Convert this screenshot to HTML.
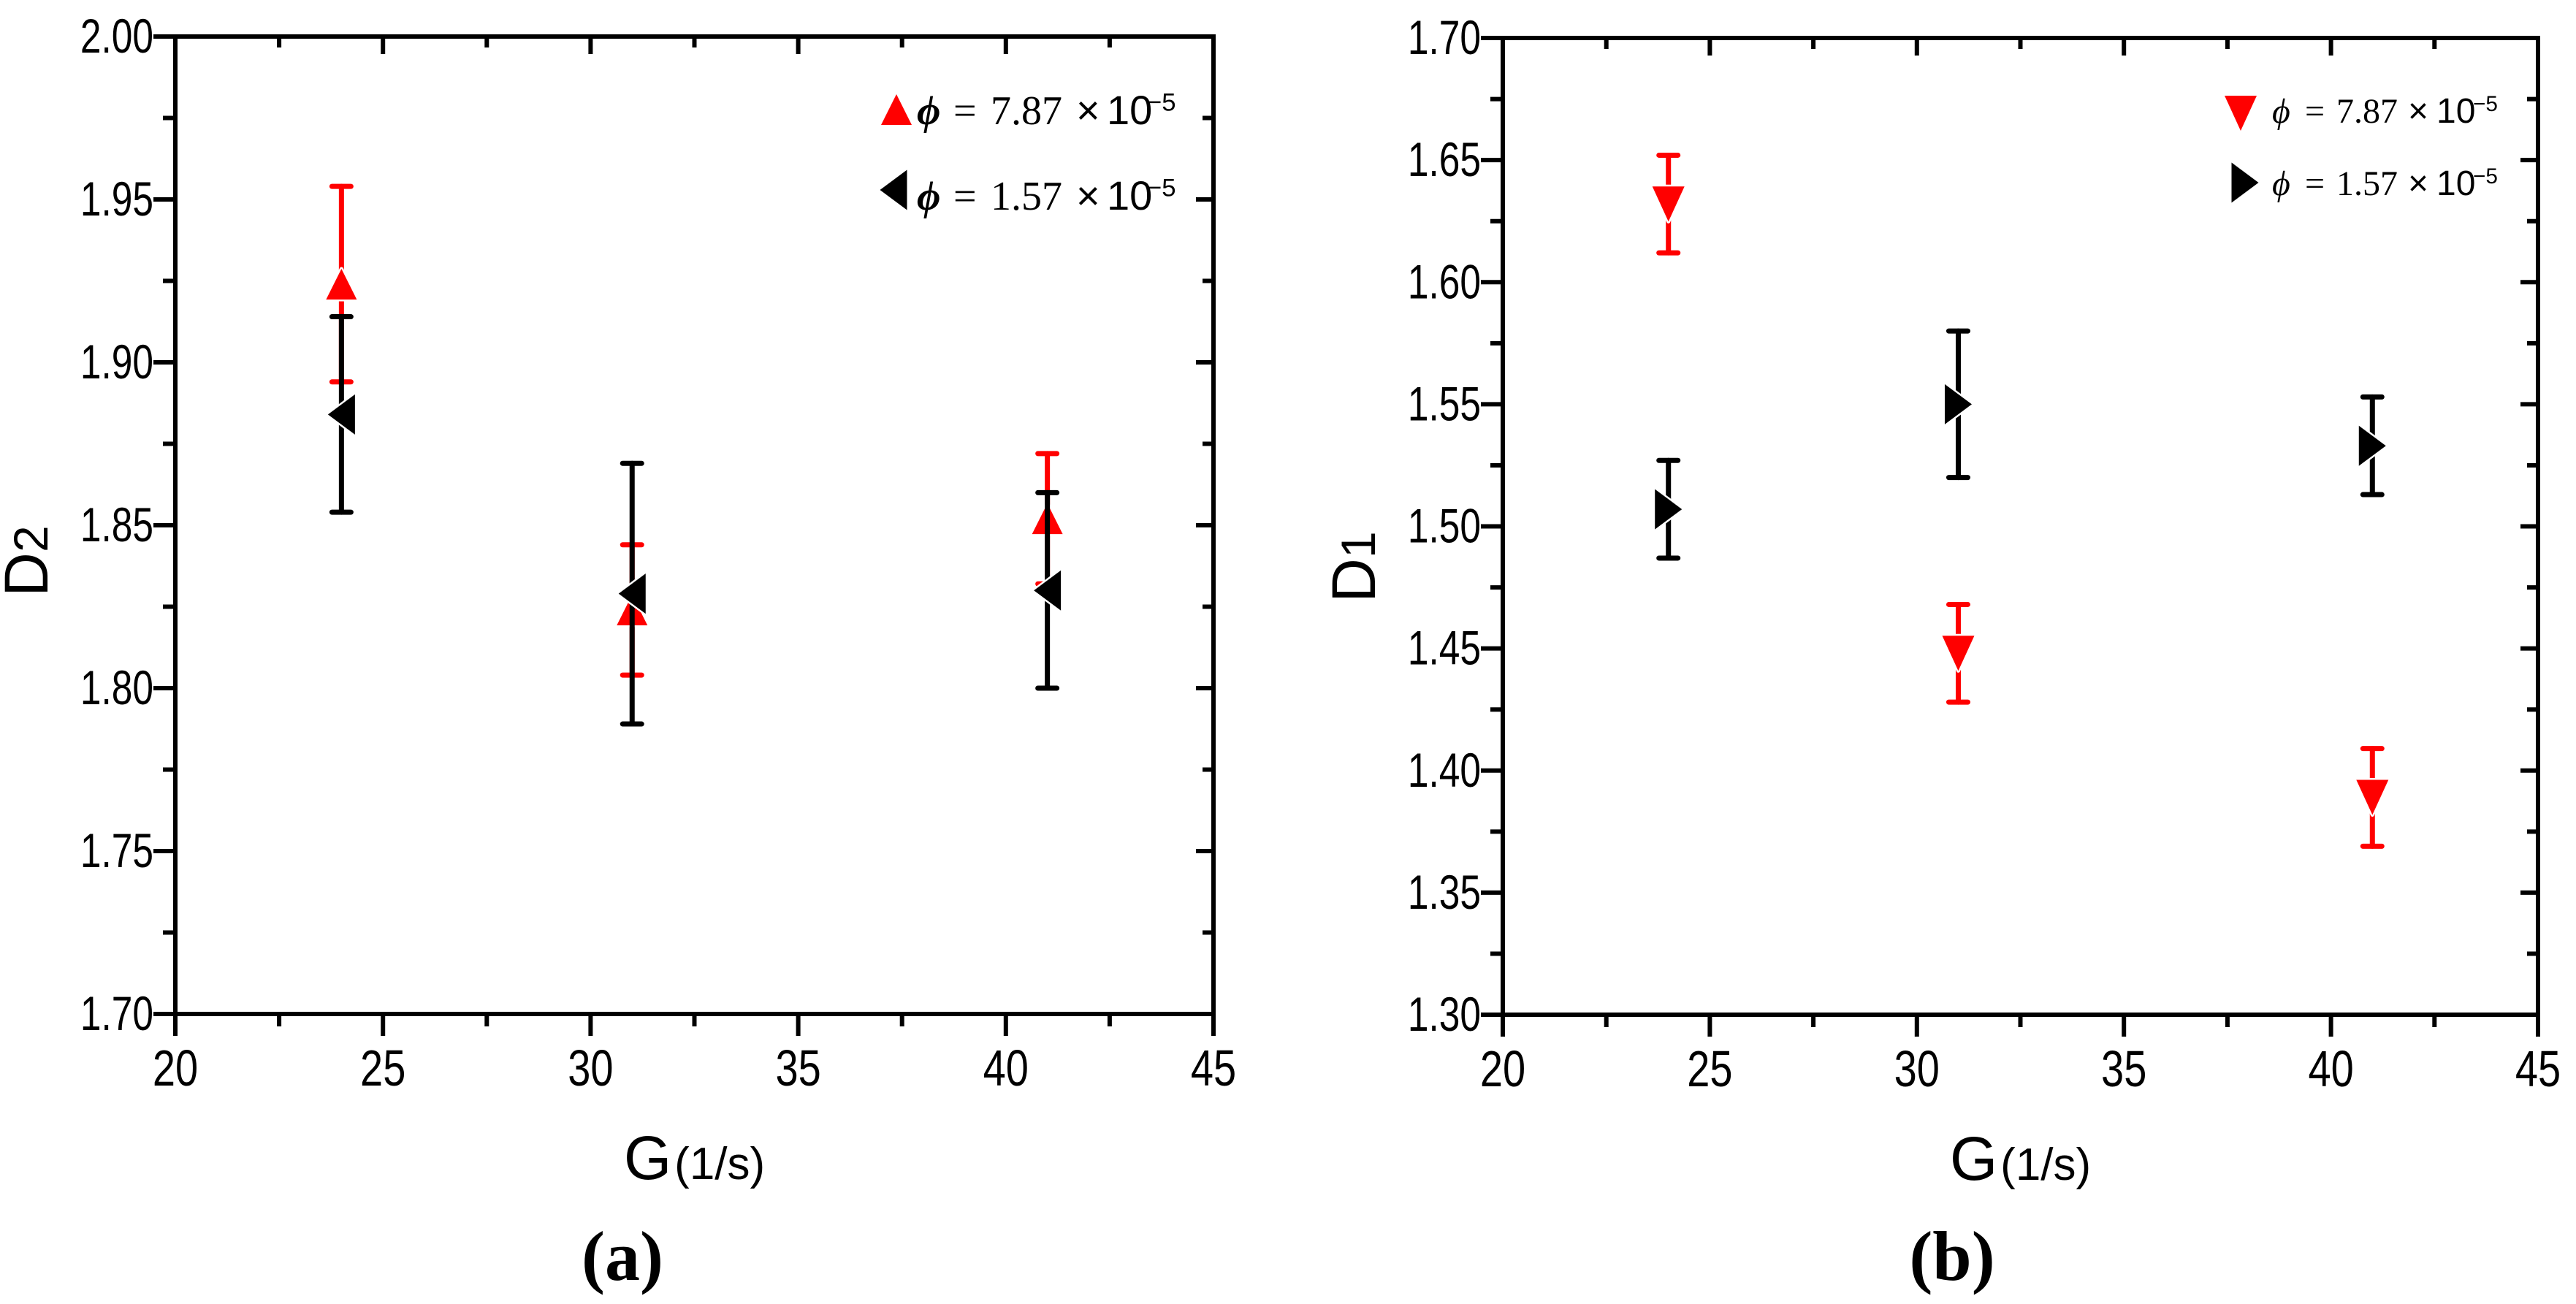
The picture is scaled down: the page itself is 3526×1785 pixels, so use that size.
<!DOCTYPE html>
<html><head><meta charset="utf-8"><style>
html,body{margin:0;padding:0;background:#fff;}
svg{display:block;}
</style></head><body>
<svg id="fig" width="3526" height="1785" viewBox="0 0 3526 1785" xmlns="http://www.w3.org/2000/svg">
<rect width="3526" height="1785" fill="#fff"/>
<g id="pa"></g>
<g id="pb"></g>
</svg>
<script>
// ---- data ----
const xCats = [24, 31, 41];
// panel a (D2)
const aRedVals = [1.924, 1.824, 1.852];
const aRedErr = [0.030, 0.020, 0.020];
const aBlackVals = [1.884, 1.829, 1.830];
const aBlackErr = [0.030, 0.040, 0.030];
const aYTicks = ["1.70","1.75","1.80","1.85","1.90","1.95","2.00"];
// panel b (D1)
const bRedVals = [1.632, 1.448, 1.389];
const bRedErr = [0.020, 0.020, 0.020];
const bBlackVals = [1.507, 1.550, 1.533];
const bBlackErr = [0.020, 0.030, 0.020];
const bYTicks = ["1.30","1.35","1.40","1.45","1.50","1.55","1.60","1.65","1.70"];
const xTicks = ["20","25","30","35","40","45"];

const NS = "http://www.w3.org/2000/svg";
function mk(tag, attrs, parent){
  const e = document.createElementNS(NS, tag);
  for (const k in attrs) e.setAttribute(k, attrs[k]);
  parent.appendChild(e);
  return e;
}

function panel(g, box, yMin, yMax, yTicks, series, labelMain, labelSub, labelCenterY, panelLetter, letterX, legend){
  const xMin = 20, xMax = 45;
  const X = v => box.l + (v - xMin) / (xMax - xMin) * (box.r - box.l);
  const Y = v => box.b - (v - yMin) / (yMax - yMin) * (box.b - box.t);
  const ax = mk('g', {}, g);
  
  
  const ls = {stroke:'#000','stroke-width':6,'stroke-linecap':'square'};
  mk('rect', {x:box.l, y:box.t, width:box.r-box.l, height:box.b-box.t, fill:'none', stroke:'#000', 'stroke-width':6}, ax);
  const maj = 27, mnr = 14, imaj = 21, imnr = 12;
  // x ticks
  for (let i = 0; i < xTicks.length; i++) {
    const v = +xTicks[i], x = X(v);
    mk('line', Object.assign({x1:x, y1:box.b, x2:x, y2:box.b+maj}, ls), ax);
    if (i>0 && i<xTicks.length-1) mk('line', Object.assign({x1:x, y1:box.t, x2:x, y2:box.t+imaj}, ls), ax);
    const t = mk('text', {transform:`translate(${x},${box.b+98}) scale(0.8,1)`, 'text-anchor':'middle', 'font-family':'Liberation Sans, sans-serif', 'font-size':70}, ax);
    t.textContent = xTicks[i];
    
    
    if (i < xTicks.length-1) {
      const xm = X(v + 2.5);
      mk('line', Object.assign({x1:xm, y1:box.b, x2:xm, y2:box.b+mnr}, ls), ax);
      mk('line', Object.assign({x1:xm, y1:box.t, x2:xm, y2:box.t+imnr}, ls), ax);
    }
  }
  // y ticks
  const step = +yTicks[1] - +yTicks[0];
  for (let i = 0; i < yTicks.length; i++) {
    const v = +yTicks[i], y = Y(v);
    mk('line', Object.assign({x1:box.l, y1:y, x2:box.l-maj, y2:y}, ls), ax);
    if (i>0 && i<yTicks.length-1) mk('line', Object.assign({x1:box.r, y1:y, x2:box.r-imaj, y2:y}, ls), ax);
    const t = mk('text', {transform:`translate(${box.l-30},${y+22}) scale(0.78,1)`, 'text-anchor':'end', 'font-family':'Liberation Sans, sans-serif', 'font-size':66}, ax);
    t.textContent = yTicks[i];
    
    
    if (i < yTicks.length-1) {
      const ym = Y(v + step/2);
      mk('line', Object.assign({x1:box.l, y1:ym, x2:box.l-mnr, y2:ym}, ls), ax);
      mk('line', Object.assign({x1:box.r, y1:ym, x2:box.r-imnr, y2:ym}, ls), ax);
    }
  }
  // axis titles
  const xt = mk('text', {x:(box.l+box.r)/2, y:box.b+226, 'text-anchor':'middle', 'font-family':'Liberation Sans, sans-serif', 'font-size':84}, g);
  
  
  xt.innerHTML = 'G<tspan font-size="62" dx="4">(1/s)</tspan>';
  const yt = mk('text', {transform:`translate(${box.l-175},${labelCenterY}) rotate(-90)`, 'text-anchor':'middle', 'font-family':'Liberation Sans, sans-serif', 'font-size':84}, g);
  
  
  yt.innerHTML = labelMain + '<tspan font-size="66">' + labelSub + '</tspan>';
  const pl = mk('text', {x:letterX, y:1752, 'text-anchor':'middle', 'font-family':'Liberation Serif, serif', 'font-size':96, 'font-weight':'bold'}, g);
  
  
  pl.textContent = '(' + panelLetter + ')';
  // series
  series.forEach(s => {
    const sg = mk('g', {}, g);
    
    
    for (let i = 0; i < xCats.length; i++) {
      const x = X(xCats[i]), y = Y(s.vals[i]);
      const yt2 = Y(s.vals[i] + s.err[i]), yb = Y(s.vals[i] - s.err[i]);
      const eb = mk('g', {stroke:s.color, 'stroke-width':7, 'stroke-linecap':'round'}, sg);
      
      
      mk('line', {x1:x, y1:yt2, x2:x, y2:yb}, eb);
      mk('line', {x1:x-13, y1:yt2, x2:x+13, y2:yt2}, eb);
      mk('line', {x1:x-13, y1:yb, x2:x+13, y2:yb}, eb);
      const m = mk('path', {d:markerPath(s.shape, x, y), fill:s.color, stroke:'#fff', 'stroke-width':5, 'paint-order':'stroke', 'stroke-linejoin':'round'}, sg);
      
      
    }
  });
  // legend
  const lg = mk('g', {}, g);
  
  
  legend.forEach(e => {
    const eg = mk('g', {}, lg);
    
    
    mk('path', {d:markerPath(e.shape, e.mx, e.my), fill:e.color}, eg);
    const fs = e.fs;
    const t = mk('text', {x:e.tx, y:e.base, 'font-family':'Liberation Serif, serif', 'font-size':fs}, eg);
    t.innerHTML =
      `<tspan font-style="italic" font-weight="${e.bold?'bold':'normal'}">ϕ</tspan>` +
      `<tspan x="${e.eqx}">=</tspan>` +
      `<tspan x="${e.numx}">${e.num}</tspan>` +
      `<tspan x="${e.timesx}" font-family="Liberation Sans, sans-serif">×</tspan>` +
      `<tspan x="${e.tenx}" font-family="Liberation Sans, sans-serif">10</tspan>` +
      `<tspan x="${e.supx}" dy="${-fs*0.33}" font-size="${fs*0.62}" font-family="Liberation Sans, sans-serif">−5</tspan>`;
  });
}

function markerPath(shape, x, y){
  if (shape === 'up') { const w=21, h=42; return `M${x-w},${y+h/2} L${x+w},${y+h/2} L${x},${y-h/2} Z`; }
  if (shape === 'down') { const w=22, h=48; return `M${x-w},${y-h/2} L${x+w},${y-h/2} L${x},${y+h/2} Z`; }
  if (shape === 'left') { const w=37, h=55; return `M${x+w/2},${y-h/2} L${x+w/2},${y+h/2} L${x-w/2},${y} Z`; }
  const w=37, h=55; return `M${x-w/2},${y-h/2} L${x-w/2},${y+h/2} L${x+w/2},${y} Z`;
}

panel(document.getElementById('pa'), {l:240, r:1661, t:50, b:1388}, 1.70, 2.00, aYTicks,
  [{name:'series-phi-7.87e-5', vals:aRedVals, err:aRedErr, color:'#ff0000', shape:'up'},
   {name:'series-phi-1.57e-5', vals:aBlackVals, err:aBlackErr, color:'#000', shape:'left'}],
  'D', '2', 768, 'a', 852,
  [{shape:'up', color:'#ff0000', mx:1227, my:150, tx:1255, base:170, fs:56, bold:true, eqx:1305, numx:1356, num:'7.87', timesx:1473, tenx:1515, supx:1570},
   {shape:'left', color:'#000', mx:1223, my:260, tx:1255, base:287, fs:56, bold:true, eqx:1305, numx:1356, num:'1.57', timesx:1473, tenx:1515, supx:1570}]);

panel(document.getElementById('pb'), {l:2057, r:3474, t:52, b:1389}, 1.30, 1.70, bYTicks,
  [{name:'series-phi-7.87e-5', vals:bRedVals, err:bRedErr, color:'#ff0000', shape:'down'},
   {name:'series-phi-1.57e-5', vals:bBlackVals, err:bBlackErr, color:'#000', shape:'right'}],
  'D', '1', 776, 'b', 2672,
  [{shape:'down', color:'#ff0000', mx:3067, my:155, tx:3110, base:168, fs:48, bold:false, eqx:3155, numx:3198, num:'7.87', timesx:3296, tenx:3335, supx:3385},
   {shape:'right', color:'#000', mx:3073, my:250, tx:3110, base:267, fs:48, bold:false, eqx:3155, numx:3198, num:'1.57', timesx:3296, tenx:3335, supx:3385}]);
</script>
</body></html>
